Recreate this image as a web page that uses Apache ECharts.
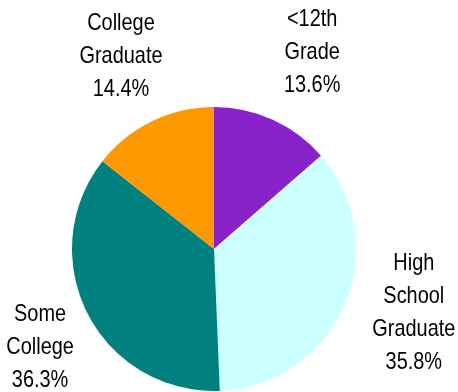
<!DOCTYPE html>
<html>
<head>
<meta charset="utf-8">
<script src="https://cdn.jsdelivr.net/npm/echarts@6/dist/echarts.min.js"></script>
<style>
html,body{margin:0;padding:0;background:#fff;}
#main{width:458px;height:392px;}
</style>
</head>
<body>
<div id="main"></div>
<script>
var categories = ['<12th\nGrade', 'High\nSchool\nGraduate', 'Some\nCollege', 'College\nGraduate'];
var values = [13.6, 35.8, 36.3, 14.4];
var colors = ['#8A22C9', '#CCFFFF', '#018080', '#FF9900'];
var labelNudge = [[12, -3], [5, -20], [19, 1], [0, -1]];

var chart = echarts.init(document.getElementById('main'), null, {renderer: 'canvas'});
var data = categories.map(function (c, i) {
  return {name: c, value: values[i], itemStyle: {color: colors[i]}};
});
var center = [214, 249];
var condensed = false;
chart.on('finished', function () {
  if (condensed) return;
  condensed = true;
  var sd = chart.getModel().getSeriesByIndex(1).getData();
  sd.each(function (idx) {
    var sec = sd.getItemGraphicEl(idx);
    var t = sec && sec.getTextContent && sec.getTextContent();
    if (t) {
      t.scaleX = 0.83;
      t.markRedraw();
    }
  });
  chart.getZr().refreshImmediately();
});
chart.setOption({
  animation: false,
  series: [
    {
      type: 'pie',
      center: center,
      radius: [0, 142],
      startAngle: 90,
      clockwise: true,
      data: data,
      label: {show: false},
      labelLine: {show: false},
      silent: true
    },
    {
      type: 'pie',
      center: center,
      radius: [0, 420],
      startAngle: 90,
      clockwise: true,
      silent: true,
      z: 5,
      data: categories.map(function (c, i) { return {name: c, value: values[i]}; }),
      itemStyle: {color: 'rgba(0,0,0,0)'},
      label: {
        show: true,
        position: 'inside',
        formatter: function (p) { return p.name + '\n' + p.value.toFixed(1) + '%'; },
        fontFamily: '"Liberation Sans", Arial, sans-serif',
        fontSize: 24,
        lineHeight: 33,
        color: '#000',
        align: 'center',
        verticalAlign: 'middle'
      },
      labelLine: {show: false},
      labelLayout: function (p) {
        var n = labelNudge[p.dataIndex];
        return {dx: n[0], dy: n[1], hideOverlap: false};
      }
    }
  ]
});
</script>
</body>
</html>
